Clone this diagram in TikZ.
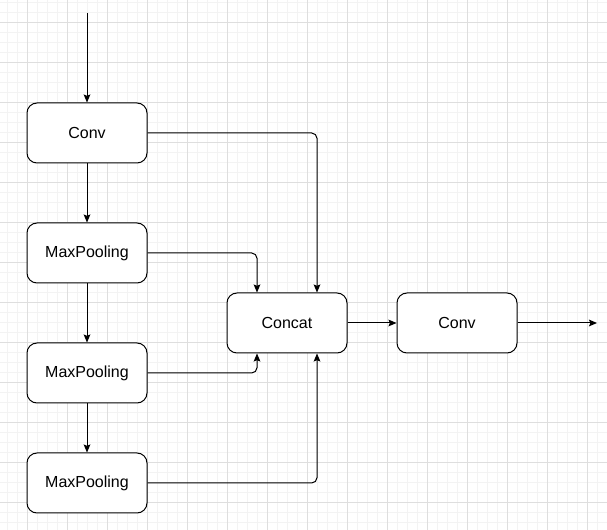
\documentclass[tikz,border=0pt]{standalone}
\usepackage{fontspec}
\setmainfont{Liberation Sans}
\usetikzlibrary{arrows.meta}
\definecolor{gridminor}{HTML}{F3F3F3}
\definecolor{gridmajor}{HTML}{DEDEDE}
\begin{document}
\begin{tikzpicture}[x=0.75pt,y=-0.75pt,
  blk/.style={draw=black,line width=0.75pt,rounded corners=7.5pt,fill=white,
    minimum width=90pt,minimum height=45pt,inner sep=0pt,font=\fontsize{12pt}{14pt}\selectfont},
  conn/.style={draw=black,line width=0.75pt,rounded corners=4pt,-{Stealth[length=6pt,width=5pt,inset=1pt]}}]
\useasboundingbox (0,0) rectangle (607,530);
\fill[white] (0,0) rectangle (607,530);
\foreach \i in {7,17,...,607} \draw[gridminor,line width=0.75pt] (\i,0) -- (\i,530);
\foreach \j in {3,13,...,530} \draw[gridminor,line width=0.75pt] (0,\j) -- (607,\j);
\foreach \i in {27,67,...,607} \draw[gridmajor,line width=0.75pt] (\i,0) -- (\i,530);
\foreach \j in {23,63,...,530} \draw[gridmajor,line width=0.75pt] (0,\j) -- (607,\j);

\node[blk] (conv1) at (87,133) {Conv};
\node[blk] (mp1) at (87,253) {MaxPooling};
\node[blk] (mp2) at (87,373) {MaxPooling};
\node[blk] (mp3) at (87,483) {MaxPooling};
\node[blk] (concat) at (287,323) {Concat};
\node[blk] (conv2) at (457,323) {Conv};
\coordinate (in) at (87,13);
\coordinate (out) at (597,323);

\draw[conn] (in) -- (conv1.north);
\draw[conn] (conv1.south) -- (mp1.north);
\draw[conn] (mp1.south) -- (mp2.north);
\draw[conn] (mp2.south) -- (mp3.north);
\draw[conn] (conv1.east) -- ([xshift=22.5pt]concat.north |- conv1.east) -- ([xshift=22.5pt]concat.north);
\draw[conn] (mp1.east) -- ([xshift=-22.5pt]concat.north |- mp1.east) -- ([xshift=-22.5pt]concat.north);
\draw[conn] (mp2.east) -- ([xshift=-22.5pt]concat.south |- mp2.east) -- ([xshift=-22.5pt]concat.south);
\draw[conn] (mp3.east) -- ([xshift=22.5pt]concat.south |- mp3.east) -- ([xshift=22.5pt]concat.south);
\draw[conn] (concat.east) -- (conv2.west);
\draw[conn] (conv2.east) -- (out);
\end{tikzpicture}
\end{document}
